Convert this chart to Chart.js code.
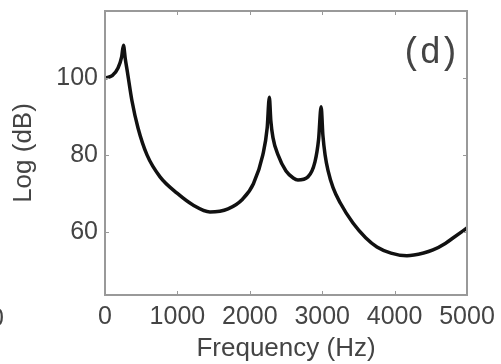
<!DOCTYPE html>
<html>
<head>
<meta charset="utf-8">
<script src="https://cdn.jsdelivr.net/npm/chart.js@4.4.1/dist/chart.umd.min.js"></script>
<style>
    html, body { margin: 0; padding: 0; background: #fff; overflow: hidden; }
    #area { position: relative; width: 501px; height: 364px; }
    #rotulo-painel { position: absolute; left: 401px; top: 36px; font: 36px "Liberation Mono", monospace; letter-spacing: -3px; line-height: 36px; color: #444; }
    #corte { position: absolute; left: -10px; top: 303px; font: 25px "Liberation Sans", Arial, sans-serif; line-height: 28px; color: #444; }
</style>
</head>
<body>
<div id="area">
    <canvas id="grafico-espectro" width="501" height="364"></canvas>
    <span id="rotulo-painel">(d)</span>
    <span id="corte">0</span>
</div>
<script>
// Dados (frequência em Hz, nível em dB)
const frequencias = [0, 100, 180, 230, 255, 280, 310, 373, 456, 580, 760, 1000, 1215, 1450, 1700, 1900, 2050, 2180, 2240, 2270, 2290, 2320, 2390, 2500, 2600, 2665, 2803, 2900, 2950, 2985, 3010, 3040, 3080, 3150, 3250, 3425, 3600, 3756, 3950, 4170, 4400, 4530, 4700, 4806, 5000];
const niveis = [100, 100.6, 102.6, 105.5, 108.5, 105, 101.5, 94, 87, 80, 74.3, 70, 67, 65.2, 66, 68.5, 72.5, 80, 87, 95, 89, 84.5, 80, 75.8, 74, 73.5, 74.3, 78.2, 84, 92.5, 85, 80, 76, 71.5, 67.5, 62.3, 58.5, 56.1, 54.5, 53.8, 54.5, 55.3, 57, 58.4, 61];
const ticksX = [0, 1000, 2000, 3000, 4000, 5000];
const ticksY = [60, 80, 100];

let graficoEspectro = null;

document.addEventListener('DOMContentLoaded', function() {
    inicializarGrafico();
});

// Moldura da área do gráfico e marcas internas dos ticks
const molduraPlugin = {
    id: 'moldura',
    afterDraw(chart) {
        const ctx = chart.ctx;
        const area = chart.chartArea;
        const escalaX = chart.scales.x;
        const escalaY = chart.scales.y;
        ctx.save();
        ctx.strokeStyle = '#999';
        ctx.lineWidth = 2;
        ctx.strokeRect(area.left, area.top, area.right - area.left, area.bottom - area.top);
        ctx.lineWidth = 1;
        ctx.beginPath();
        escalaX.ticks.forEach(t => {
            if (t.value <= 0 || t.value >= 5000) return;
            const px = Math.round(escalaX.getPixelForValue(t.value)) + 0.5;
            ctx.moveTo(px, area.bottom); ctx.lineTo(px, area.bottom - 4);
            ctx.moveTo(px, area.top); ctx.lineTo(px, area.top + 4);
        });
        escalaY.ticks.forEach(t => {
            const py = Math.round(escalaY.getPixelForValue(t.value)) + 0.5;
            ctx.moveTo(area.left, py); ctx.lineTo(area.left + 4, py);
            ctx.moveTo(area.right, py); ctx.lineTo(area.right - 4, py);
        });
        ctx.stroke();
        ctx.restore();
    }
};

function inicializarGrafico() {
    const ctx = document.getElementById('grafico-espectro').getContext('2d');
    const fonte = { family: '"Liberation Sans", Arial, sans-serif', size: 25 };
    const fonteTitulo = { family: '"Liberation Sans", Arial, sans-serif', size: 26 };

    graficoEspectro = new Chart(ctx, {
        type: 'line',
        data: {
            datasets: [{
                data: frequencias.map((f, i) => ({ x: f, y: niveis[i] })),
                borderColor: '#111',
                borderWidth: 3.5,
                pointRadius: 0,
                cubicInterpolationMode: 'monotone',
                fill: false
            }]
        },
        options: {
            responsive: false,
            animation: false,
            devicePixelRatio: 1,
            layout: { padding: { top: 11, right: 34, left: 0, bottom: 0 } },
            plugins: {
                legend: { display: false },
                tooltip: { enabled: false }
            },
            scales: {
                x: {
                    type: 'linear',
                    min: 0,
                    max: 5000,
                    afterBuildTicks: s => { s.ticks = ticksX.map(v => ({ value: v })); },
                    afterFit: s => { s.height = 69; s.paddingLeft = 0; s.paddingRight = 0; },
                    grid: { display: false, drawTicks: false },
                    border: { display: false },
                    ticks: { color: '#444', font: fonte, padding: 7, maxRotation: 0, autoSkip: false, callback: v => String(v) },
                    title: { display: true, text: 'Frequency (Hz)', color: '#444', font: fonteTitulo, padding: { top: 0, bottom: 0 } }
                },
                y: {
                    min: 43.6,
                    max: 117.4,
                    afterBuildTicks: s => { s.ticks = ticksY.map(v => ({ value: v })); },
                    afterFit: s => { s.width = 105; s.paddingTop = 0; s.paddingBottom = 0; },
                    grid: { display: false, drawTicks: false },
                    border: { display: false },
                    ticks: { color: '#444', font: fonte, padding: 7, callback: v => String(v) },
                    title: { display: true, text: 'Log (dB)', color: '#444', font: fonteTitulo, padding: { top: 8, bottom: 0 } }
                }
            }
        },
        plugins: [molduraPlugin]
    });
}
</script>
</body>
</html>
